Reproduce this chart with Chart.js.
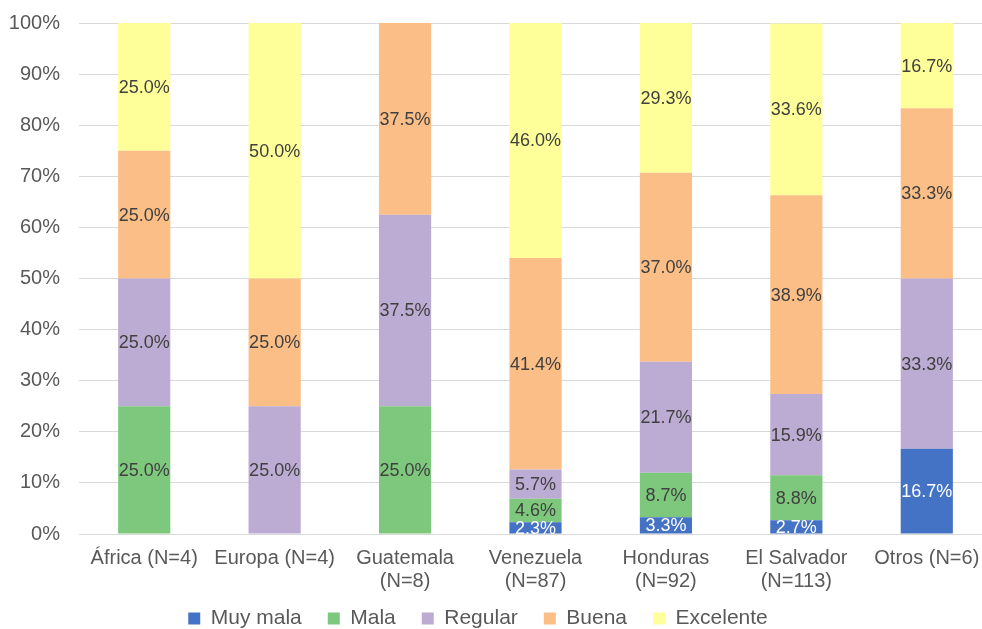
<!DOCTYPE html>
<html>
<head>
<meta charset="utf-8">
<script src="https://cdn.jsdelivr.net/npm/chart.js@4.4.1/dist/chart.umd.min.js"></script>
<style>
  html, body { margin: 0; padding: 0; background: #fff; overflow: hidden; }
  #wrap { width: 992px; height: 629px; position: relative; }
</style>
</head>
<body>
<div id="wrap"><canvas id="chart"></canvas></div>
<script>
/* stacked 100% bars — valoración por procedencia */
var categories = ['África (N=4)', 'Europa (N=4)', ['Guatemala', '(N=8)'], ['Venezuela', '(N=87)'],
  ['Honduras', '(N=92)'], ['El Salvador', '(N=113)'], 'Otros (N=6)'];

var muyMala   = [0, 0, 0, 2.3, 3.3, 2.7, 16.7];
var mala      = [25.0, 0, 25.0, 4.6, 8.7, 8.8, 0];
var regular   = [25.0, 25.0, 37.5, 5.7, 21.7, 15.9, 33.3];
var buena     = [25.0, 25.0, 37.5, 41.4, 37.0, 38.9, 33.3];
var excelente = [25.0, 50.0, 0, 46.0, 29.3, 33.6, 16.7];

var yTicks = [0, 10, 20, 30, 40, 50, 60, 70, 80, 90, 100];

var FONT = "'Liberation Sans', Arial, sans-serif";
var GREY = '#595959';

var segLabels = {
  id: 'segLabels',
  afterLayout: function (chart) {
    // let the two-line category labels draw past the (shortened) axis box
    chart.scales.x.bottom = chart.height;
  },
  afterDatasetsDraw: function (chart) {
    var ctx = chart.ctx;
    ctx.save();
    ctx.font = '18px ' + FONT;
    ctx.textAlign = 'center';
    ctx.textBaseline = 'middle';
    chart.data.datasets.forEach(function (ds, di) {
      var meta = chart.getDatasetMeta(di);
      meta.data.forEach(function (bar, i) {
        var v = ds.data[i];
        if (!v) return;
        var top = Math.min(bar.y, bar.base), bot = Math.max(bar.y, bar.base);
        ctx.fillStyle = ds.labelColor;
        ctx.fillText(v.toFixed(1) + '%', bar.x, (top + bot) / 2 + 1);
      });
    });
    ctx.restore();
  }
};

function ds(label, data, color, labelColor) {
  return { label: label, data: data, backgroundColor: color, borderWidth: 0, labelColor: labelColor,
    barPercentage: 0.4, categoryPercentage: 1.0 };
}

new Chart(document.getElementById('chart'), {
  type: 'bar',
  data: {
    labels: categories,
    datasets: [
      ds('Muy mala', muyMala, '#4472C4', '#ffffff'),
      ds('Mala', mala, '#7DC87D', '#404040'),
      ds('Regular', regular, '#BCACD3', '#404040'),
      ds('Buena', buena, '#FBBE86', '#404040'),
      ds('Excelente', excelente, '#FFFF99', '#404040')
    ]
  },
  options: {
    responsive: true, maintainAspectRatio: false,
    animation: false,
    layout: { padding: { top: 23, right: 0, left: -36, bottom: -10 } },
    plugins: {
      legend: {
        position: 'bottom',
        labels: { font: { family: FONT, size: 21 }, color: GREY, boxWidth: 12, boxHeight: 12, padding: 26 }
      },
      tooltip: { enabled: false }
    },
    scales: {
      x: {
        stacked: true,
        grid: { display: false },
        border: { color: '#d9d9d9' },
        afterFit: function (axis) { axis.height = 48; },
        ticks: { font: { family: FONT, size: 20, lineHeight: 1.15 }, color: GREY, maxRotation: 0, autoSkip: false, padding: 5 }
      },
      y: {
        stacked: true, min: 0, max: 100,
        afterBuildTicks: function (axis) { axis.ticks = yTicks.map(function (v) { return { value: v }; }); },
        afterFit: function (axis) { axis.width = 115; axis.paddingTop = 0; axis.paddingBottom = 0; },
        grid: { color: '#d9d9d9', drawTicks: false },
        border: { display: false },
        ticks: { font: { family: FONT, size: 20 }, color: GREY, padding: 19,
          callback: function (v) { return v + '%'; } }
      }
    }
  },
  plugins: [segLabels]
});
</script>
</body>
</html>
